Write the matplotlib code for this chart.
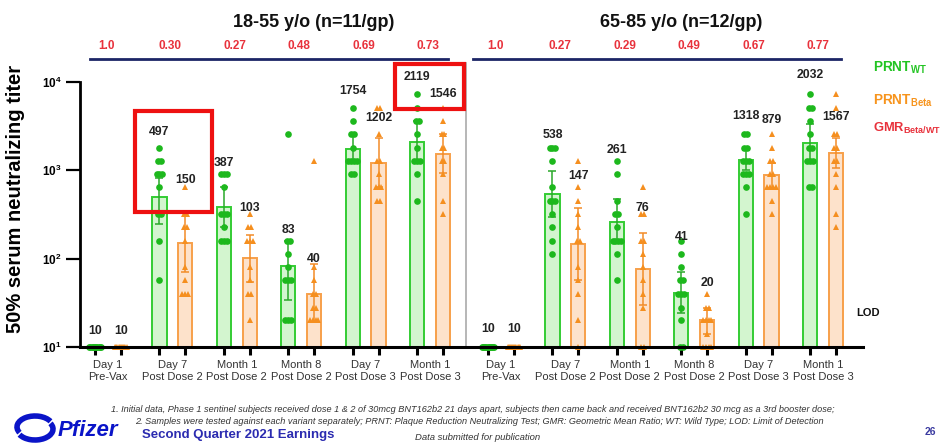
import numpy as np
import matplotlib
matplotlib.use('Agg')
import matplotlib.pyplot as plt
from matplotlib.patches import Rectangle, Arc
import matplotlib.transforms as mtransforms

plt.rcParams['font.family'] = ['Liberation Sans', 'DejaVu Sans']
plt.rcParams['mathtext.fontset'] = 'custom'
plt.rcParams['mathtext.rm'] = 'Liberation Sans'
plt.rcParams['mathtext.bf'] = 'Liberation Sans:bold'

# ---------------- data ----------------
timepoints = ["Day 1\nPre-Vax", "Day 7\nPost Dose 2", "Month 1\nPost Dose 2",
              "Month 8\nPost Dose 2", "Day 7\nPost Dose 3", "Month 1\nPost Dose 3"]
panel_titles = ["18-55 y/o (n=11/gp)", "65-85 y/o (n=12/gp)"]

gmt_wt_young = [10, 497, 387, 83, 1754, 2119]
gmt_beta_young = [10, 150, 103, 40, 1202, 1546]
gmt_wt_old = [10, 538, 261, 41, 1318, 2032]
gmt_beta_old = [10, 147, 76, 20, 879, 1567]

gmr_young = ["1.0", "0.30", "0.27", "0.48", "0.69", "0.73"]
gmr_old = ["1.0", "0.27", "0.29", "0.49", "0.67", "0.77"]

ci_wt_young = [(10, 10), (248, 820), (230, 650), (34, 160), (1200, 2600), (1250, 3600)]
ci_beta_young = [(10, 10), (70, 330), (55, 185), (19, 88), (650, 2300), (930, 2600)]
ci_wt_old = [(10, 10), (300, 990), (150, 470), (24, 71), (1000, 1700), (1220, 3380)]
ci_beta_old = [(10, 10), (58, 375), (30, 195), (14, 28), (630, 1220), (1070, 2300)]

pts_wt_young = [
    [10] * 11,
    [1810, 1280, 1280, 905, 905, 905, 640, 320, 320, 160, 57],
    [905, 905, 905, 640, 320, 320, 320, 226, 160, 160, 160],
    [2560, 160, 160, 113, 80, 57, 57, 57, 20, 20, 20],
    [5120, 3620, 2560, 2560, 1810, 1280, 1280, 1280, 1280, 905, 905],
    [7240, 5120, 3620, 3620, 2560, 1810, 1280, 1280, 1280, 905, 453],
]
pts_beta_young = [
    [10] * 11,
    [640, 320, 320, 226, 226, 160, 80, 57, 40, 40, 40],
    [320, 226, 226, 160, 160, 160, 80, 57, 40, 40, 20],
    [1280, 80, 57, 40, 40, 28, 28, 20, 20, 20, 20],
    [5120, 5120, 2560, 1280, 1280, 905, 640, 640, 640, 453, 453],
    [5120, 3620, 2560, 2560, 1810, 1810, 1280, 1280, 905, 453, 320],
]
pts_wt_old = [
    [10] * 12,
    [1810, 1810, 1810, 1280, 640, 453, 453, 453, 320, 226, 160, 113],
    [1280, 905, 453, 320, 320, 226, 160, 160, 160, 160, 113, 57],
    [160, 113, 80, 57, 57, 40, 40, 40, 28, 20, 10, 10],
    [2560, 2560, 1810, 1810, 1280, 1280, 1280, 905, 905, 905, 640, 320],
    [7240, 5120, 5120, 3620, 2560, 1810, 1810, 1280, 1280, 1280, 640, 640],
]
pts_beta_old = [
    [10] * 12,
    [1280, 640, 453, 320, 226, 160, 160, 80, 57, 40, 20, 10],
    [640, 320, 320, 160, 160, 113, 80, 57, 40, 28, 10, 10],
    [40, 28, 28, 20, 20, 20, 20, 14, 10, 10, 10, 10],
    [2560, 1810, 1280, 1280, 905, 905, 640, 640, 640, 640, 453, 320],
    [7240, 5120, 2560, 2560, 1810, 1810, 1280, 1280, 905, 640, 320, 226],
]

# label anchor heights (layout, titer units)
lab_wt_young = [15, 2700, 1220, 212, 8000, 11500]
lab_beta_young = [15, 770, 374, 100, 3960, 7350]
lab_wt_old = [16, 2540, 1720, 175, 4100, 11900]
lab_beta_old = [16, 855, 374, 53, 3690, 3990]

# ---------------- style ----------------
G_EDGE = '#33cc33'
G_FILL = '#d3f5cf'
G_PT = '#1db81d'
G_ERR = '#2aa82a'
O_EDGE = '#f7a04a'
O_FILL = '#fde2cb'
O_PT = '#f58f1f'
O_ERR = '#f28c28'
NAVY = '#1c2566'
RED = '#e8323c'

fig = plt.figure(figsize=(9.45, 4.43), dpi=100)
ax = fig.add_axes([80 / 945, 1 - 347 / 443, (863 - 80) / 945, (347 - 82) / 443])

n_groups = len(timepoints)
gap = 0.1
centers_young = np.arange(n_groups, dtype=float)
centers_old = np.arange(n_groups, dtype=float) + n_groups + gap
off = 0.2
bw = 0.22


def jitter_positions(xc, vals):
    vals = np.asarray(vals, dtype=float)
    xs = np.zeros_like(vals)
    for v in np.unique(vals):
        idx = np.where(vals == v)[0]
        n = len(idx)
        if n > 1:
            step = min(0.045, 0.18 / (n - 1))
            xs[idx] = xc + (np.arange(n) - (n - 1) / 2) * step
        else:
            xs[idx] = xc
    return xs, vals


def draw_series(centers, gmt, ci, pts, labs, edge, fill, ptc, errc, marker):
    for i, xc in enumerate(centers):
        g = gmt[i]
        if g > 10:
            ax.bar(xc, g - 10, bottom=10, width=bw, color=fill, edgecolor=edge,
                   linewidth=1.4, zorder=2)
            lo, hi = ci[i]
            ax.errorbar([xc], [g], yerr=[[g - lo], [hi - g]], fmt='none',
                        ecolor=errc, elinewidth=1.1, capsize=3, capthick=1.1, zorder=3)
        xs, vs = jitter_positions(xc, pts[i])
        ax.plot(xs, vs, linestyle='none', marker=marker, markersize=4.8,
                color=ptc, markeredgewidth=0, zorder=4, clip_on=False)
        ax.text(xc, labs[i], str(g), ha='center', va='center', fontsize=8.8,
                fontweight='bold', color='#222222', zorder=6)


draw_series(centers_young - off, gmt_wt_young, ci_wt_young, pts_wt_young, lab_wt_young,
            G_EDGE, G_FILL, G_PT, G_ERR, 'o')
draw_series(centers_young + off, gmt_beta_young, ci_beta_young, pts_beta_young, lab_beta_young,
            O_EDGE, O_FILL, O_PT, O_ERR, '^')
draw_series(centers_old - off, gmt_wt_old, ci_wt_old, pts_wt_old, lab_wt_old,
            G_EDGE, G_FILL, G_PT, G_ERR, 'o')
draw_series(centers_old + off, gmt_beta_old, ci_beta_old, pts_beta_old, lab_beta_old,
            O_EDGE, O_FILL, O_PT, O_ERR, '^')

ax.set_yscale('log')
ax.set_ylim(10, 10000)
ax.set_xlim(-0.434, 11.72)

# spines
for s in ['top', 'right']:
    ax.spines[s].set_visible(False)
ax.spines['left'].set_linewidth(2)
ax.spines['bottom'].set_linewidth(2.2)
ax.spines['bottom'].set_zorder(5)

# ticks
bar_x = np.sort(np.concatenate([centers_young - off, centers_young + off,
                                centers_old - off, centers_old + off]))
ax.set_xticks(bar_x)
ax.set_xticklabels([])
ax.tick_params(axis='x', which='major', length=6, width=2.2, color='black', direction='out')
ax.set_xticks(np.concatenate([centers_young, centers_old]), minor=True)
ax.set_xticklabels(timepoints * 2, minor=True, fontsize=8, color='#333333', linespacing=1.25)
ax.tick_params(axis='x', which='minor', length=0, pad=9)

ax.set_yticks([10, 100, 1000, 10000])
ax.set_yticklabels([r'$\mathbf{10^{1}}$', r'$\mathbf{10^{2}}$', r'$\mathbf{10^{3}}$', r'$\mathbf{10^{4}}$'],
                   fontsize=8.5)
ax.yaxis.set_minor_locator(matplotlib.ticker.NullLocator())
ax.tick_params(axis='y', which='major', length=10, width=1.6, color='black', pad=3)

ax.set_ylabel('50% serum neutralizing titer', fontsize=14.5, fontweight='bold')
ax.yaxis.set_label_coords(-0.07, 0.56)

# separator and header decorations
tr = mtransforms.blended_transform_factory(ax.transData, ax.transAxes)
sep_x = (centers_young[-1] + centers_old[0]) / 2
ax.plot([sep_x, sep_x], [0, 1.07], transform=tr, color='#aaaaaa', lw=1.2, clip_on=False, zorder=1)

ax.plot([centers_young[0] - 0.28, centers_young[-1] + 0.28], [1.087, 1.087], transform=tr,
        color=NAVY, lw=2, clip_on=False)
ax.plot([centers_old[0] - 0.44, centers_old[-1] + 0.28], [1.087, 1.087], transform=tr,
        color=NAVY, lw=2, clip_on=False)

for xc, t in zip(centers_young, gmr_young):
    ax.text(xc - 0.03, 1.136, t, transform=tr, ha='center', va='center', fontsize=8.5,
            fontweight='bold', color=RED)
for xc, t in zip(centers_old, gmr_old):
    ax.text(xc - 0.08, 1.136, t, transform=tr, ha='center', va='center', fontsize=8.5,
            fontweight='bold', color=RED)

ax.text(np.mean(centers_young) + 0.7, 1.226, panel_titles[0], transform=tr, ha='center',
        va='center', fontsize=13, fontweight='bold', color='#111111')
ax.text(np.mean(centers_old) + 0.3, 1.226, panel_titles[1], transform=tr, ha='center',
        va='center', fontsize=13, fontweight='bold', color='#111111')

# legend-like labels
ax.text(1.0128, 1.053, r'$\mathbf{PRNT_{WT}}$', transform=ax.transAxes, fontsize=9.8,
        color='#22c422', va='center', ha='left')
ax.text(1.0128, 0.928, r'$\mathbf{PRNT_{Beta}}$', transform=ax.transAxes, fontsize=9.8,
        color='#f7941d', va='center', ha='left')
ax.text(1.0128, 0.826, r'$\mathbf{GMR_{Beta/WT}}$', transform=ax.transAxes, fontsize=9.3,
        color=RED, va='center', ha='left')
ax.text(0.992, 0.128, 'LOD', transform=ax.transAxes, fontsize=8, fontweight='bold',
        color='#111111', va='center', ha='left')

# red highlight boxes
ax.add_patch(Rectangle((0.42, 340), 1.61 - 0.42, 4640 - 340, fill=False, edgecolor='#ee1111',
                       linewidth=3, zorder=7, clip_on=False))
ax.add_patch(Rectangle((4.45, 4890), 5.53 - 4.45, 15800 - 4890, fill=False, edgecolor='#ee1111',
                       linewidth=3, zorder=7, clip_on=False))

# footnotes
fig.text(473 / 945, 1 - 410 / 443,
         '1. Initial data, Phase 1 sentinel subjects received dose 1 & 2 of 30mcg BNT162b2 21 days apart, '
         'subjects then came back and received BNT162b2 30 mcg as a 3rd booster dose;',
         ha='center', va='center', fontsize=6.6, style='italic', color='#333333')
fig.text(479 / 945, 1 - 421 / 443,
         '2. Samples were tested against each variant separately; PRNT: Plaque Reduction Neutralizing Test; '
         'GMR: Geometric Mean Ratio; WT: Wild Type; LOD: Limit of Detection',
         ha='center', va='center', fontsize=6.6, style='italic', color='#333333')
fig.text(142 / 945, 1 - 435 / 443, 'Second Quarter 2021 Earnings', ha='left', va='center',
         fontsize=9.5, fontweight='bold', color='#2b2bb0')
fig.text(415 / 945, 1 - 438 / 443, 'Data submitted for publication', ha='left', va='center',
         fontsize=6.8, style='italic', color='#333333')
fig.text(936 / 945, 1 - 432 / 443, '26', ha='right', va='center', fontsize=7.5,
         fontweight='bold', color='#3a3aa0')

# Pfizer logo
fig.text(58 / 945, 1 - 430 / 443, 'Pfizer', ha='left', va='center', fontsize=16,
         fontweight='bold', style='italic', color='#0a14c8')
lax = fig.add_axes([14 / 945, 1 - 443 / 443, 42 / 945, 32 / 443])
lax.set_xlim(0, 42)
lax.set_ylim(0, 32)
lax.set_aspect('equal')
lax.axis('off')
lax.add_patch(Arc((21, 16), 36, 22, theta1=20, theta2=200, lw=4, color='#0a14c8'))
lax.add_patch(Arc((21, 14), 36, 22, theta1=200, theta2=380, lw=4, color='#0a14c8'))

fig.savefig('out.png', dpi=100, facecolor='white')
